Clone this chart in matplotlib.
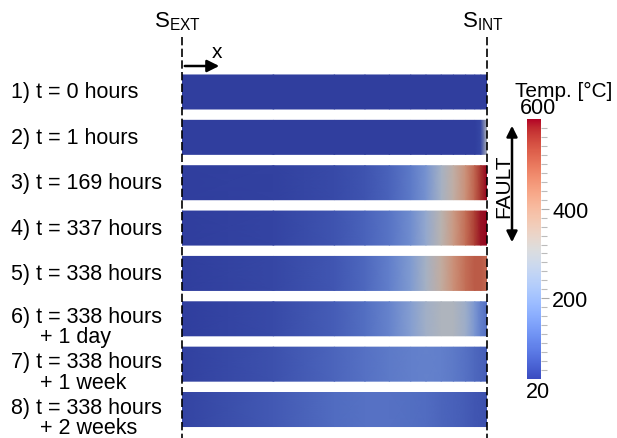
import numpy as np
import matplotlib
matplotlib.use('Agg')
import matplotlib.pyplot as plt
import matplotlib.transforms as mtransforms
from matplotlib.colors import Normalize, ListedColormap
from matplotlib.cm import ScalarMappable
from matplotlib.lines import Line2D
from matplotlib.patches import FancyArrowPatch
from matplotlib.ticker import FixedLocator

plt.rcParams['font.family'] = ['Liberation Sans', 'DejaVu Sans']

W, H = 617, 439

# position through the wall: 0 = external surface, 1 = internal surface
x_pos = [0, 0.3, 0.5, 0.6, 0.68, 0.75, 0.8, 0.85, 0.89, 0.93, 0.96, 0.98, 1.0]

label_main = ['1) t = 0 hours', '2) t = 1 hours', '3) t = 169 hours', '4) t = 337 hours',
              '5) t = 338 hours', '6) t = 338 hours', '7) t = 338 hours', '8) t = 338 hours']
label_extra = [None, None, None, None, None, '+ 1 day', '+ 1 week', '+ 2 weeks']

# temperature [°C] at each x_pos
temp_0h = [20, 20, 20, 20, 20, 20, 20, 20, 20, 20, 20, 20, 20]
temp_1h = [20, 20, 20, 20, 20, 20, 20, 20, 20, 20, 20, 35, 300]
temp_169h = [20, 25, 40, 55, 80, 120, 170, 270, 340, 420, 500, 560, 600]
temp_337h = [20, 30, 55, 80, 110, 160, 230, 320, 400, 480, 550, 590, 600]
temp_338h = [20, 35, 60, 90, 130, 190, 270, 350, 420, 480, 510, 510, 490]
temp_1day = [20, 40, 70, 100, 140, 200, 260, 290, 290, 250, 180, 130, 100]
temp_1week = [25, 50, 85, 105, 120, 130, 135, 130, 120, 105, 90, 80, 70]
temp_2weeks = [30, 65, 95, 105, 105, 100, 95, 85, 78, 68, 60, 55, 50]

profiles = [temp_0h, temp_1h, temp_169h, temp_337h, temp_338h, temp_1day, temp_1week, temp_2weeks]

t_min, t_max = 20, 600
cbar_ticks = [200, 400]


def fx(px):
    return px / W


def fy(py):
    return 1 - py / H


norm = Normalize(t_min, t_max)
cmap = plt.get_cmap('coolwarm')
# the rendered wall is shaded a bit darker than the legend
shaded = cmap(np.linspace(0, 1, 256))
shaded[:, :3] *= 0.82
bar_cmap = ListedColormap(shaded)

fig = plt.figure(figsize=(W / 100, H / 100), dpi=100)

top, bot = 70.3, 433.2
ax = fig.add_axes([fx(182), fy(bot), (487 - 182) / W, (bot - top) / H])
ax.set_xlim(0, 1)
ax.set_ylim(len(profiles) - 0.5, -0.5)
ax.axis('off')
row_px = (bot - top) / len(profiles)

half = 0.375
xs = np.array(x_pos)
for i, prof in enumerate(profiles):
    X = np.vstack([xs, xs])
    Y = np.vstack([np.full_like(xs, i - half), np.full_like(xs, i + half)])
    C = np.vstack([prof, prof])
    ax.pcolormesh(X, Y, C, shading='gouraud', cmap=bar_cmap, norm=norm)

fs = 15.5
trans = mtransforms.blended_transform_factory(fig.transFigure, ax.transData)
for i, (main, extra) in enumerate(zip(label_main, label_extra)):
    if extra is None:
        ax.text(fx(11), i, main, transform=trans, fontsize=fs, va='center', ha='left')
    else:
        ax.text(fx(11), i + 3 / row_px, main, transform=trans, fontsize=fs,
                va='baseline', ha='left')
        ax.text(fx(40), i + 23.5 / row_px, extra, transform=trans, fontsize=fs,
                va='baseline', ha='left')

# surface markers
for xp in (182, 487):
    fig.add_artist(Line2D([fx(xp), fx(xp)], [fy(38), fy(439)], transform=fig.transFigure,
                          color='black', lw=1.2, linestyle=(0, (5, 2))))
fig.text(fx(177), fy(22), r'$\mathregular{S_{EXT}}$', fontsize=16, ha='center', va='center')
fig.text(fx(483), fy(22), r'$\mathregular{S_{INT}}$', fontsize=16, ha='center', va='center')

# x direction arrow
fig.add_artist(FancyArrowPatch((fx(182), fy(67)), (fx(222), fy(67)),
                               transform=fig.transFigure, arrowstyle='-|>',
                               mutation_scale=18, color='black', lw=1.8))
fig.text(fx(217), fy(52), 'x', fontsize=15, ha='center', va='center')

# fault zone arrow
fig.add_artist(FancyArrowPatch((fx(512), fy(124)), (fx(512), fy(246)),
                               transform=fig.transFigure, arrowstyle='<|-|>',
                               mutation_scale=16, color='black', lw=1.8))
fig.text(fx(513), fy(186), 'FAULT', fontsize=15, rotation=90, ha='right', va='center')

# colour bar
cax = fig.add_axes([fx(527), fy(380), 14 / W, 260 / H])
cb = fig.colorbar(ScalarMappable(norm=norm, cmap=cmap), cax=cax)
cb.outline.set_visible(False)
cb.set_ticks(cbar_ticks)
cax.yaxis.set_minor_locator(FixedLocator(np.arange(40, 600, 20)))
cax.tick_params(which='major', length=6, width=0.8, color='#aaaaaa', labelsize=15.5, pad=2)
cax.tick_params(which='minor', length=4, width=0.8, color='#bbbbbb')
fig.text(fx(538), fy(109), str(t_max), fontsize=15.5, ha='center', va='center')
fig.text(fx(538), fy(393), str(t_min), fontsize=15.5, ha='center', va='center')
fig.text(fx(515), fy(91), 'Temp. [°C]', fontsize=15, ha='left', va='center')

fig.savefig('out.png', dpi=100)
